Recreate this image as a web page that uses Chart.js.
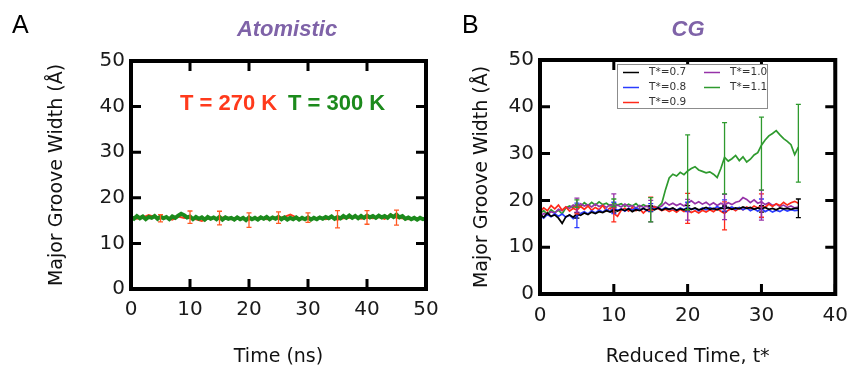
<!DOCTYPE html>
<html>
<head>
<meta charset="utf-8">
<script src="https://cdn.jsdelivr.net/npm/chart.js@4.4.1/dist/chart.umd.min.js"></script>
<style>
  body { margin: 0; background: #fff; }
  #wrap { position: relative; width: 858px; height: 368px; overflow: hidden; }
  canvas { position: absolute; top: 0; }
  #chartA { left: 0; }
  #chartB { left: 430px; }
</style>
</head>
<body>
<div id="wrap">
  <canvas id="chartA" width="450" height="368"></canvas>
  <canvas id="chartB" width="428" height="368"></canvas>
</div>
<script>
// ---- Panel A: atomistic runs (time in ns) ----
var stepA300 = 0.5;
var width300 = [15.8,15.4,16.0,15.5,15.9,15.3,15.8,15.6,16.0,15.4,
  15.9,15.5,15.8,15.3,15.9,15.6,16.1,16.5,16.2,15.7,
  15.9,15.3,15.8,15.4,15.7,15.2,15.8,15.4,15.7,15.3,
  15.8,15.2,15.7,15.4,15.6,15.2,15.7,15.3,15.6,15.1,
  15.7,15.3,15.6,15.2,15.7,15.4,15.8,15.3,15.7,15.4,
  15.8,15.3,15.7,15.2,15.6,15.3,15.7,15.2,15.6,15.3,
  15.7,15.2,15.6,15.3,15.7,15.4,15.8,15.5,15.9,15.4,
  15.8,15.5,16.0,15.6,16.1,15.6,16.0,15.5,16.0,15.6,
  16.1,15.7,16.0,15.6,16.1,15.7,16.0,15.6,16.2,15.8,
  16.3,15.7,16.0,15.4,15.7,15.3,15.6,15.2,15.6,15.3,
  15.5];
var stepA270 = 1;
var width270 = [15.9,15.4,15.7,16.2,15.8,15.5,15.6,15.2,15.9,15.6,
  15.8,15.3,14.9,15.4,15.6,15.5,15.8,15.3,15.6,15.4,
  15.2,15.5,15.7,15.3,15.6,15.6,15.8,16.3,15.7,15.3,
  15.6,15.4,15.7,15.3,15.6,15.2,15.5,15.6,15.8,15.4,
  15.7,15.5,15.8,15.4,16.4,15.6,15.5,15.3,15.6,15.4,
  15.5];
var barTimeA = [5, 10, 15, 20, 25, 30, 35, 40, 45];
var barMid270 = [15.5, 15.75, 15.55, 15.1, 15.65, 15.65, 15.3, 15.7, 15.65];
var barHalf270 = [0.8, 1.35, 1.5, 1.6, 1.25, 1.05, 1.9, 1.5, 1.65];

// ---- Panel B: coarse-grained runs (reduced time) ----
var stepB = 0.5;
var seriesNamesB = ['T*=0.7', 'T*=0.8', 'T*=0.9', 'T*=1.0', 'T*=1.1'];
var widthB07 = [17.0,16.4,17.3,16.6,16.9,16.2,15.1,16.5,16.9,16.4,
  17.1,16.8,17.3,17.0,17.5,17.2,17.6,17.4,17.8,17.5,
  18.0,17.7,18.1,17.8,18.2,17.6,18.0,17.8,18.3,17.9,
  18.2,18.0,18.4,17.9,18.3,18.1,18.4,17.9,18.2,18.0,
  18.3,18.1,18.4,18.0,18.2,18.5,18.1,18.3,18.0,18.4,
  18.2,18.5,18.1,18.4,18.2,18.6,18.3,18.5,18.1,18.4,
  18.2,18.5,18.1,18.3,18.0,18.4,18.2,18.3,18.1,18.3,
  18.3];
var widthB08 = [16.8,16.2,17.0,16.5,17.2,16.6,17.1,16.4,16.9,16.1,
  16.6,17.2,17.6,17.1,17.8,17.3,17.9,17.5,18.1,17.6,
  18.4,17.9,18.2,17.7,18.3,17.9,18.4,18.0,18.3,17.8,
  18.5,18.1,18.4,18.0,18.5,18.1,18.3,17.9,18.4,18.0,
  18.6,18.1,18.3,17.8,18.4,18.0,18.5,18.1,18.7,18.2,
  18.9,18.3,18.6,18.1,18.5,18.0,18.4,17.8,18.2,17.7,
  18.3,17.6,18.0,17.5,17.9,17.6,18.1,17.7,18.0,17.8,
  17.9];
var widthB09 = [17.6,18.4,17.8,18.9,18.2,19.0,17.9,18.6,17.7,18.3,
  17.9,18.7,18.1,18.8,17.9,18.5,18.0,18.9,17.8,18.4,
  17.2,16.6,17.9,18.3,17.7,18.5,17.8,18.2,17.3,18.1,
  18.0,18.6,18.2,17.8,18.1,17.6,18.0,17.5,18.1,17.6,
  17.9,17.4,17.8,17.3,17.9,17.5,18.0,17.6,18.2,17.7,
  17.2,17.9,18.3,17.8,18.4,18.0,18.6,18.2,18.8,18.4,
  18.9,18.5,19.2,18.7,19.3,18.9,19.6,19.0,19.5,19.8,
  19.4];
var widthB10 = [16.6,17.2,16.9,17.6,17.3,18.1,17.8,18.6,18.3,19.0,
  18.7,19.3,18.8,19.1,18.6,19.2,18.7,19.0,18.5,19.1,
  18.8,19.0,18.6,19.2,18.7,18.9,18.4,18.9,18.5,18.8,
  18.3,18.7,18.4,18.8,19.6,19.0,19.4,18.9,19.3,18.8,
  19.5,19.9,19.3,19.7,19.2,19.6,19.0,19.5,18.9,19.4,
  19.0,19.5,19.1,19.6,19.8,20.6,20.2,19.5,20.1,19.4,
  19.7,19.1,19.5,18.9,19.2,18.7,19.0,18.5,18.8,18.4,
  18.6];
var widthB11 = [17.2,17.8,17.0,18.0,17.4,17.9,17.1,18.4,18.8,18.5,
  19.3,18.7,19.5,18.9,19.6,19.0,19.7,19.1,19.4,18.8,
  19.5,19.0,19.3,18.7,19.2,18.8,19.3,18.6,19.1,18.7,
  18.9,18.4,18.6,19.4,22.3,24.8,25.6,25.2,26.0,25.5,
  26.3,26.8,27.2,26.5,26.2,25.9,26.1,25.6,24.9,26.8,
  29.2,28.4,28.9,29.6,28.5,29.3,28.2,28.8,29.7,30.2,
  31.8,32.9,33.8,34.3,34.9,34.0,33.2,32.6,31.9,29.8,
  31.4];
var barTimeB = [5, 10, 15, 20, 25, 30, 35];
var barMidB07 = [16.8, 18.0, 18.2, 18.3, 18.2, 18.2, 18.3];
var barHalfB07 = [0.6, 0.5, 0.6, 0.6, 0.6, 0.7, 2.0];
var barMidB08 = [16.8, 18.4, 18.5, 18.6, 18.9, 18.3, null];
var barHalfB08 = [2.6, 1.2, 0.8, 1.0, 1.2, 2.0, null];
var barMidB09 = [17.9, 16.9, 19.3, 18.3, 16.7, 18.9, null];
var barHalfB09 = [0.8, 1.5, 1.4, 3.2, 3.0, 2.5, null];
var barMidB10 = [19.0, 20.0, 17.7, 18.0, 18.6, 19.0, null];
var barHalfB10 = [1.5, 1.4, 2.3, 2.2, 2.7, 3.2, null];
var barMidB11 = [19.3, 19.5, 18.0, 26.0, 29.0, 30.0, 32.2];
var barHalfB11 = [0.8, 0.8, 2.6, 8.0, 7.6, 7.8, 8.3];

var FONT = "'DejaVu Sans', sans-serif";
var SANS = "'Liberation Sans', Arial, sans-serif";

// turn an evenly sampled trace into {x, y} points
function toPoints(values, step) {
    return values.map(function (v, i) { return { x: i * step, y: v }; });
}

// vertical error bars with small caps, drawn over the traces
var errorBarPlugin = {
    id: 'errorBars',
    afterDatasetsDraw: function (chart) {
        var ctx = chart.ctx, x = chart.scales.x, y = chart.scales.y;
        ctx.save();
        chart.data.datasets.forEach(function (ds) {
            var eb = ds.errorBars;
            if (!eb) return;
            ctx.strokeStyle = eb.color || ds.borderColor;
            ctx.lineWidth = 1.3;
            eb.x.forEach(function (t, i) {
                if (eb.half[i] == null) return;
                var px = x.getPixelForValue(t);
                var top = y.getPixelForValue(eb.mid[i] + eb.half[i]);
                var bot = y.getPixelForValue(eb.mid[i] - eb.half[i]);
                ctx.beginPath();
                ctx.moveTo(px, top); ctx.lineTo(px, bot);
                ctx.moveTo(px - 2.5, top); ctx.lineTo(px + 2.5, top);
                ctx.moveTo(px - 2.5, bot); ctx.lineTo(px + 2.5, bot);
                ctx.stroke();
            });
        });
        ctx.restore();
    }
};

// heavy box around the plot with inward ticks on all four sides
var framePlugin = {
    id: 'frame',
    afterDraw: function (chart) {
        var ctx = chart.ctx, a = chart.chartArea, x = chart.scales.x, y = chart.scales.y;
        var len = 10;
        ctx.save();
        ctx.strokeStyle = '#000';
        ctx.lineWidth = 3;
        ctx.beginPath();
        x.ticks.forEach(function (t) {
            var px = x.getPixelForValue(t.value);
            ctx.moveTo(px, a.bottom); ctx.lineTo(px, a.bottom - len);
            ctx.moveTo(px, a.top); ctx.lineTo(px, a.top + len);
        });
        y.ticks.forEach(function (t) {
            var py = y.getPixelForValue(t.value);
            ctx.moveTo(a.left, py); ctx.lineTo(a.left + len, py);
            ctx.moveTo(a.right, py); ctx.lineTo(a.right - len, py);
        });
        ctx.stroke();
        ctx.lineWidth = 4;
        ctx.strokeRect(a.left, a.top, a.right - a.left, a.bottom - a.top);
        ctx.restore();
    }
};

// two-column boxed legend in the top of the plot
var boxLegendPlugin = {
    id: 'boxLegend',
    afterDraw: function (chart, args, opts) {
        if (!opts.show) return;
        var ctx = chart.ctx, a = chart.chartArea;
        var x0 = a.left + opts.offsetX, y0 = a.top + opts.offsetY;
        ctx.save();
        ctx.fillStyle = '#fff';
        ctx.fillRect(x0, y0, opts.width, opts.height);
        ctx.strokeStyle = '#8c8c8c';
        ctx.lineWidth = 1;
        ctx.strokeRect(x0 + 0.5, y0 + 0.5, opts.width, opts.height);
        ctx.font = '10.5px ' + FONT;
        ctx.textBaseline = 'middle';
        chart.data.datasets.forEach(function (ds, i) {
            var col = Math.floor(i / 3), row = i % 3;
            var lx = x0 + 6 + col * 81, ly = y0 + 8.5 + row * 15;
            ctx.strokeStyle = ds.borderColor;
            ctx.lineWidth = 1.5;
            ctx.beginPath();
            ctx.moveTo(lx, ly); ctx.lineTo(lx + 16, ly);
            ctx.stroke();
            ctx.fillStyle = '#333';
            ctx.fillText(ds.label, lx + 26, ly);
        });
        ctx.restore();
    }
};

// panel letter, panel heading and in-plot series labels
var panelTextPlugin = {
    id: 'panelText',
    afterDraw: function (chart, args, opts) {
        var ctx = chart.ctx;
        ctx.save();
        ctx.textBaseline = 'alphabetic';
        ctx.fillStyle = '#000';
        ctx.font = '25px ' + SANS;
        ctx.textAlign = 'left';
        ctx.fillText(opts.letter, opts.letterX, 33);
        ctx.fillStyle = '#7f63a8';
        ctx.font = 'italic bold 22px ' + SANS;
        ctx.textAlign = 'center';
        ctx.fillText(opts.heading, opts.headingX, 36);
        if (opts.seriesLabels) {
            ctx.font = 'bold 22px ' + SANS;
            ctx.textAlign = 'left';
            opts.seriesLabels.forEach(function (s) {
                var ds = chart.data.datasets[s.index];
                ctx.fillStyle = ds.borderColor;
                ctx.fillText(ds.label, s.x, 110);
            });
        }
        ctx.restore();
    }
};

function axisOptions(max, padY, yTitlePad, xTitle, yWidth, xHeight) {
    return {
        x: {
            type: 'linear', min: 0, max: max,
            grid: { display: false, drawTicks: false },
            border: { display: false },
            ticks: { stepSize: 10, padding: padY, color: '#1a1a1a', font: { family: FONT, size: 20 } },
            title: { display: true, text: xTitle, color: '#111', padding: { top: 0, bottom: 0 }, font: { family: FONT, size: 19 } },
            afterFit: function (s) { s.height = xHeight; }
        },
        y: {
            min: 0, max: 50,
            grid: { display: false, drawTicks: false },
            border: { display: false },
            ticks: { stepSize: 10, padding: 6, color: '#1a1a1a', font: { family: FONT, size: 20 } },
            title: { display: true, text: 'Major Groove Width (Å)', color: '#111', padding: { top: yTitlePad, bottom: 0 }, font: { family: FONT, size: 19 } },
            afterFit: function (s) { s.width = yWidth; }
        }
    };
}

var red270 = '#ff3a1c';
var green300 = '#1c8a1c';

new Chart(document.getElementById('chartA'), {
    type: 'line',
    data: {
        datasets: [
            { label: 'T = 300 K', data: toPoints(width300, stepA300), borderColor: green300, borderWidth: 4, pointRadius: 0, tension: 0 },
            { label: 'T = 270 K', data: toPoints(width270, stepA270), borderColor: red270, borderWidth: 2, pointRadius: 0, tension: 0,
              errorBars: { x: barTimeA, mid: barMid270, half: barHalf270, color: '#ff5a24' } }
        ]
    },
    options: {
        responsive: false,
        animation: false,
        layout: { padding: { top: 61, right: 24, left: 0, bottom: 0 } },
        plugins: {
            legend: { display: false },
            tooltip: { enabled: false },
            panelText: { letter: 'A', letterX: 12, heading: 'Atomistic', headingX: 287,
                seriesLabels: [{ index: 1, x: 180 }, { index: 0, x: 288 }] },
            boxLegend: { show: false }
        },
        scales: axisOptions(50, 9, 46, 'Time (ns)', 131, 79)
    },
    plugins: [errorBarPlugin, framePlugin, boxLegendPlugin, panelTextPlugin]
});

var colorsB = ['#000000', '#2a3cff', '#ff2a1a', '#9632a8', '#2e9a2e'];
var tracesB = [widthB07, widthB08, widthB09, widthB10, widthB11];
var barMidsB = [barMidB07, barMidB08, barMidB09, barMidB10, barMidB11];
var barHalvesB = [barHalfB07, barHalfB08, barHalfB09, barHalfB10, barHalfB11];

new Chart(document.getElementById('chartB'), {
    type: 'line',
    data: {
        datasets: seriesNamesB.map(function (name, i) {
            return {
                label: name,
                data: toPoints(tracesB[i], stepB),
                borderColor: colorsB[i],
                borderWidth: 1.7,
                pointRadius: 0,
                tension: 0,
                errorBars: { x: barTimeB, mid: barMidsB[i], half: barHalvesB[i] }
            };
        })
    },
    options: {
        responsive: false,
        animation: false,
        layout: { padding: { top: 60, right: 14, left: 0, bottom: 0 } },
        plugins: {
            legend: { display: false },
            tooltip: { enabled: false },
            panelText: { letter: 'B', letterX: 32, heading: 'CG', headingX: 258 },
            boxLegend: { show: true, offsetX: 77, offsetY: 4, width: 150, height: 44 }
        },
        scales: axisOptions(40, 10, 41, 'Reduced Time, t*', 110, 74)
    },
    plugins: [errorBarPlugin, framePlugin, boxLegendPlugin, panelTextPlugin]
});
</script>
</body>
</html>
